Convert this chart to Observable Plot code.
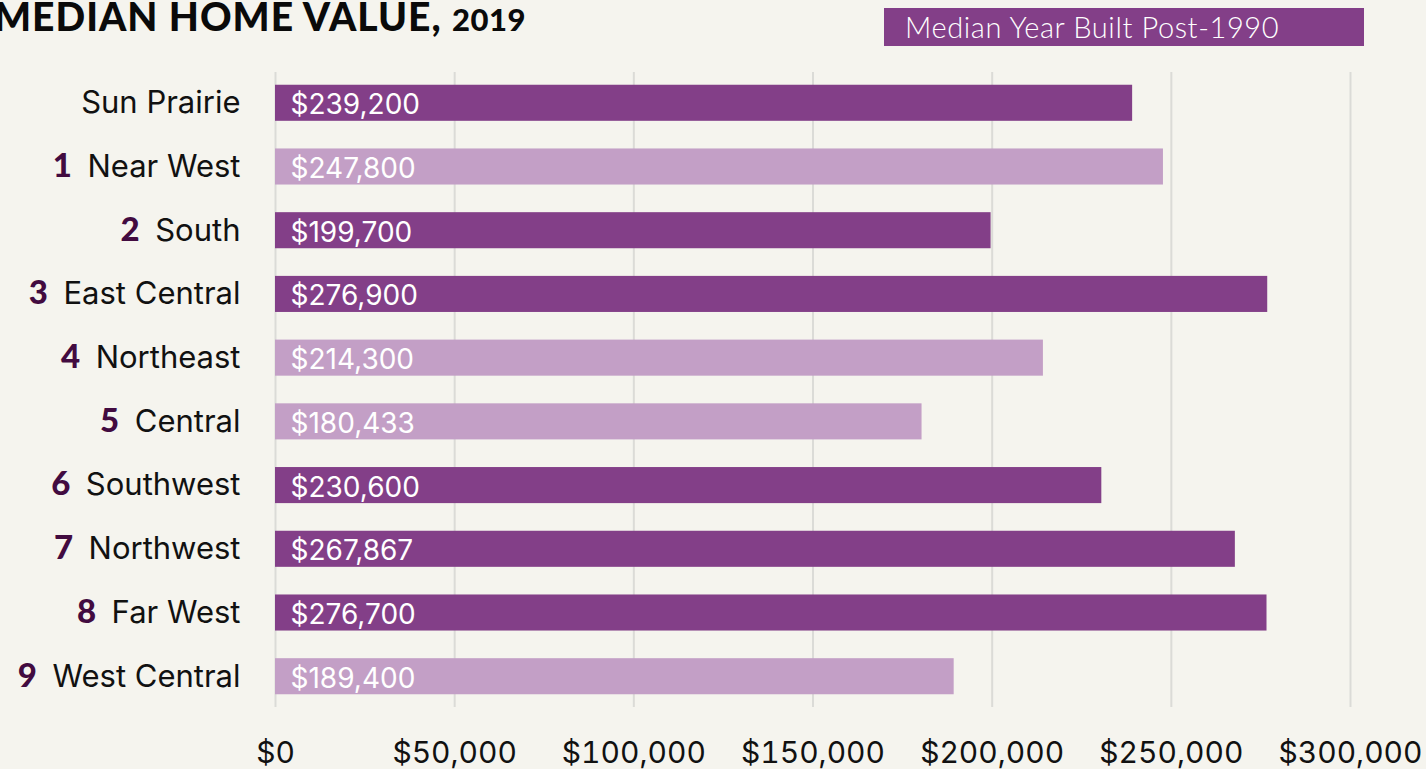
<!DOCTYPE html>
<html>
<head>
<meta charset="utf-8">
<script src="https://cdn.jsdelivr.net/npm/d3@7"></script>
<script src="https://cdn.jsdelivr.net/npm/@observablehq/plot@0.6"></script>
<style>
  html, body { margin: 0; padding: 0; background: #f5f4ee; overflow: hidden; }
  #wrap { position: relative; width: 1426px; height: 769px; }
  #title { position: absolute; left: -6px; top: -7px; font-family: Lato, sans-serif; font-weight: 900; font-size: 39px; color: #0a0a0a; white-space: nowrap; letter-spacing: 1.0px; }
  #title .yr { font-size: 31px; letter-spacing: 0.5px; }
  #legend { position: absolute; left: 884px; top: 8px; width: 480px; height: 38px; background: #833f88; color: #fff; font-family: Lato, sans-serif; font-weight: 300; font-size: 29px; line-height: 38px; box-sizing: border-box; padding-left: 21px; white-space: nowrap; letter-spacing: 0.6px; }
  #chart { position: absolute; left: 0; top: 0; }
</style>
</head>
<body>
<div id="wrap">
  <div id="chart"></div>
  <div id="title">MEDIAN HOME VALUE, <span class="yr">2019</span></div>
  <div id="legend">Median Year Built Post-1990</div>
</div>
<script>
const districts = ["Sun Prairie", "Near West", "South", "East Central", "Northeast", "Central", "Southwest", "Northwest", "Far West", "West Central"];
const districtNumbers = ["", "1", "2", "3", "4", "5", "6", "7", "8", "9"];
const medianValues = [239200, 247800, 199700, 276900, 214300, 180433, 230600, 267867, 276700, 189400];
const post1990 = [true, false, true, true, false, false, true, true, true, false];
const xTicks = [0, 50000, 100000, 150000, 200000, 250000, 300000];

const data = districts.map((d, i) => ({district: d, value: medianValues[i], post: post1990[i]}));
const money = d3.format("$,.0f");

const chart = Plot.plot({
  width: 1426,
  height: 769,
  marginLeft: 275,
  marginRight: 76,
  marginTop: 72,
  marginBottom: 62,
  style: {background: "transparent", fontFamily: "Inter, sans-serif"},
  x: {domain: [0, 300000], label: null},
  y: {domain: districts, paddingInner: 0.434, paddingOuter: 0.2, round: false, label: null},
  color: {domain: [true, false], range: ["#833f88", "#c39fc6"]},
  marks: [
    Plot.gridX(xTicks, {stroke: "#dbdbd7", strokeOpacity: 1, strokeWidth: 2}),
    Plot.barX(data, {y: "district", x: "value", fill: "post"}),
    Plot.text(data, {y: "district", x: 0, text: d => money(d.value), textAnchor: "start", dx: 15, dy: 2, fill: "white", fontSize: 28}),
    Plot.axisX(xTicks, {tickSize: 0, tickPadding: 34, tickFormat: money, fontSize: 30, fill: "#111", label: null}),
    Plot.axisY({tickSize: 0, tickPadding: 35, fontSize: 31, fill: "#111", dy: 0, label: null})
  ]
});
document.getElementById("chart").appendChild(chart);

// prepend district numbers to y-axis labels
const yAxis = d3.select(chart).selectAll("g[aria-label='y-axis tick label'] text");
yAxis.each(function(d, i) {
  const idx = districts.indexOf(this.textContent);
  const num = districtNumbers[idx >= 0 ? idx : i];
  if (!num) return;
  const t = d3.select(this);
  const label = this.textContent;
  t.text(null);
  t.append("tspan").text(num).attr("fill", "#420b40").attr("font-weight", 900).attr("font-family", "Lato, sans-serif").attr("font-size", 33);
  t.append("tspan").text("\u2002" + label);
});
</script>
</body>
</html>
